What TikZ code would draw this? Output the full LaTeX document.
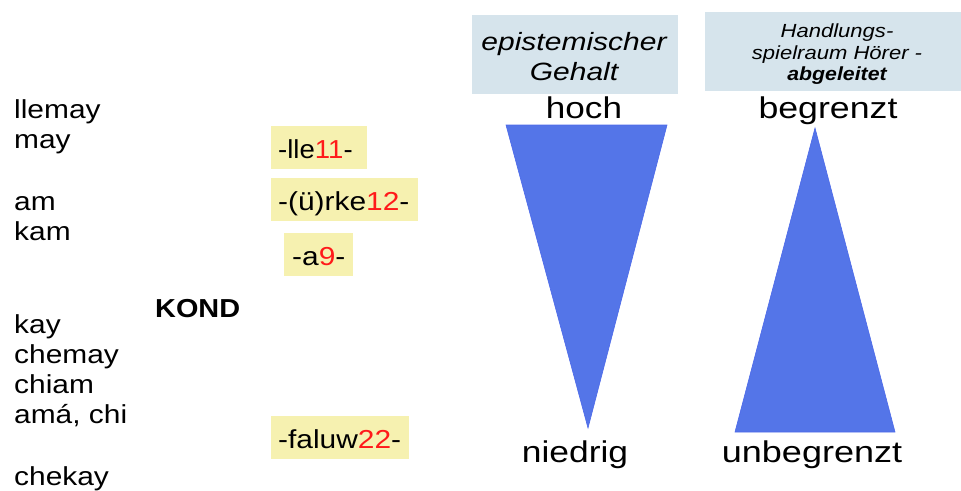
\documentclass[tikz,border=0pt]{standalone}
\usepackage{fontspec}
\setmainfont{Liberation Sans}
\definecolor{ybox}{HTML}{F6F1B0}
\definecolor{hbox}{HTML}{D6E4EC}
\definecolor{tri}{HTML}{5475E8}
\definecolor{numred}{HTML}{FF1A1A}
\newcommand{\widen}[2]{\scalebox{#1}[1]{#2}}
\tikzset{
  word/.style={anchor=base west, inner sep=0pt, font=\fontsize{26}{30}\selectfont},
  morph/.style={fill=ybox, anchor=north west, inner sep=0pt},
  head/.style={fill=hbox, anchor=north west, inner sep=0pt},
  scalelabel/.style={anchor=base, inner sep=0pt, font=\fontsize{30}{34}\selectfont},
  htext/.style={anchor=base, inner sep=0pt, font=\fontsize{25}{28}\selectfont\itshape},
  hsmall/.style={anchor=base, inner sep=0pt, font=\fontsize{19}{22}\selectfont\itshape},
  triangle/.style={fill=tri, draw=tri!90!blue, line width=0.6pt}
}
\newcommand{\rn}[1]{\textcolor{numred}{#1}}
\begin{document}
\begin{tikzpicture}[x=1pt,y=-1pt]
\useasboundingbox (0,0) rectangle (961,490);
% left column words
\node[word] (w1) at (14,118) {\widen{1.15}{llemay}};
\node[word] (w2) at (14,148) {\widen{1.15}{may}};
\node[word] (w3) at (14,210) {\widen{1.15}{am}};
\node[word] (w4) at (14,240) {\widen{1.15}{kam}};
\node[word] (w5) at (14,333) {\widen{1.15}{kay}};
\node[word] (w6) at (14,363) {\widen{1.15}{chemay}};
\node[word] (w7) at (14,393) {\widen{1.15}{chiam}};
\node[word] (w8) at (14,423) {\widen{1.15}{amá, chi}};
\node[word] (w9) at (14,485) {\widen{1.15}{chekay}};
\node[word, font=\fontsize{26}{30}\selectfont\bfseries] (kond) at (155,317) {\widen{1.11}{KOND}};
% morpheme boxes
\node[morph, minimum width=96pt, minimum height=43pt] (m1) at (271,126) {};
\node[word] (t1) at (278,158) {\widen{1.06}{-lle\rn{11}-}};
\node[morph, minimum width=147pt, minimum height=43pt] (m2) at (271,178) {};
\node[word] (t2) at (278,210) {\widen{1.15}{-(ü)rke\rn{12}-}};
\node[morph, minimum width=69pt, minimum height=43pt] (m3) at (284,233) {};
\node[word] (t3) at (292,265) {\widen{1.15}{-a\rn{9}-}};
\node[morph, minimum width=138pt, minimum height=43pt] (m4) at (271,416) {};
\node[word] (t4) at (278,448) {\widen{1.15}{-faluw\rn{22}-}};
% header boxes
\node[head, minimum width=206pt, minimum height=79pt] (h1) at (472,15) {};
\node[htext] (h1a) at (574,50) {\widen{1.2}{epistemischer}};
\node[htext] (h1b) at (574,80) {\widen{1.2}{Gehalt}};
\node[head, minimum width=256pt, minimum height=79pt] (h2) at (705,12) {};
\node[hsmall] (h2a) at (837,37) {\widen{1.16}{Handlungs-}};
\node[hsmall] (h2b) at (837,59) {\widen{1.16}{spielraum Hörer -}};
\node[hsmall, font=\fontsize{19}{22}\selectfont\itshape\bfseries] (h2c) at (837,80) {\widen{1.12}{abgeleitet}};
% scale labels
\node[scalelabel] (hoch) at (584,118) {\widen{1.17}{hoch}};
\node[scalelabel] (begr) at (828,118) {\widen{1.19}{begrenzt}};
\node[scalelabel] (nied) at (575,462) {\widen{1.18}{niedrig}};
\node[scalelabel] (unbe) at (812,462) {\widen{1.2}{unbegrenzt}};
% triangles
\draw[triangle] (506,125) -- (667,125) -- (588,428) -- cycle;
\draw[triangle] (815,128) -- (895,432) -- (735,432) -- cycle;
\end{tikzpicture}
\end{document}
